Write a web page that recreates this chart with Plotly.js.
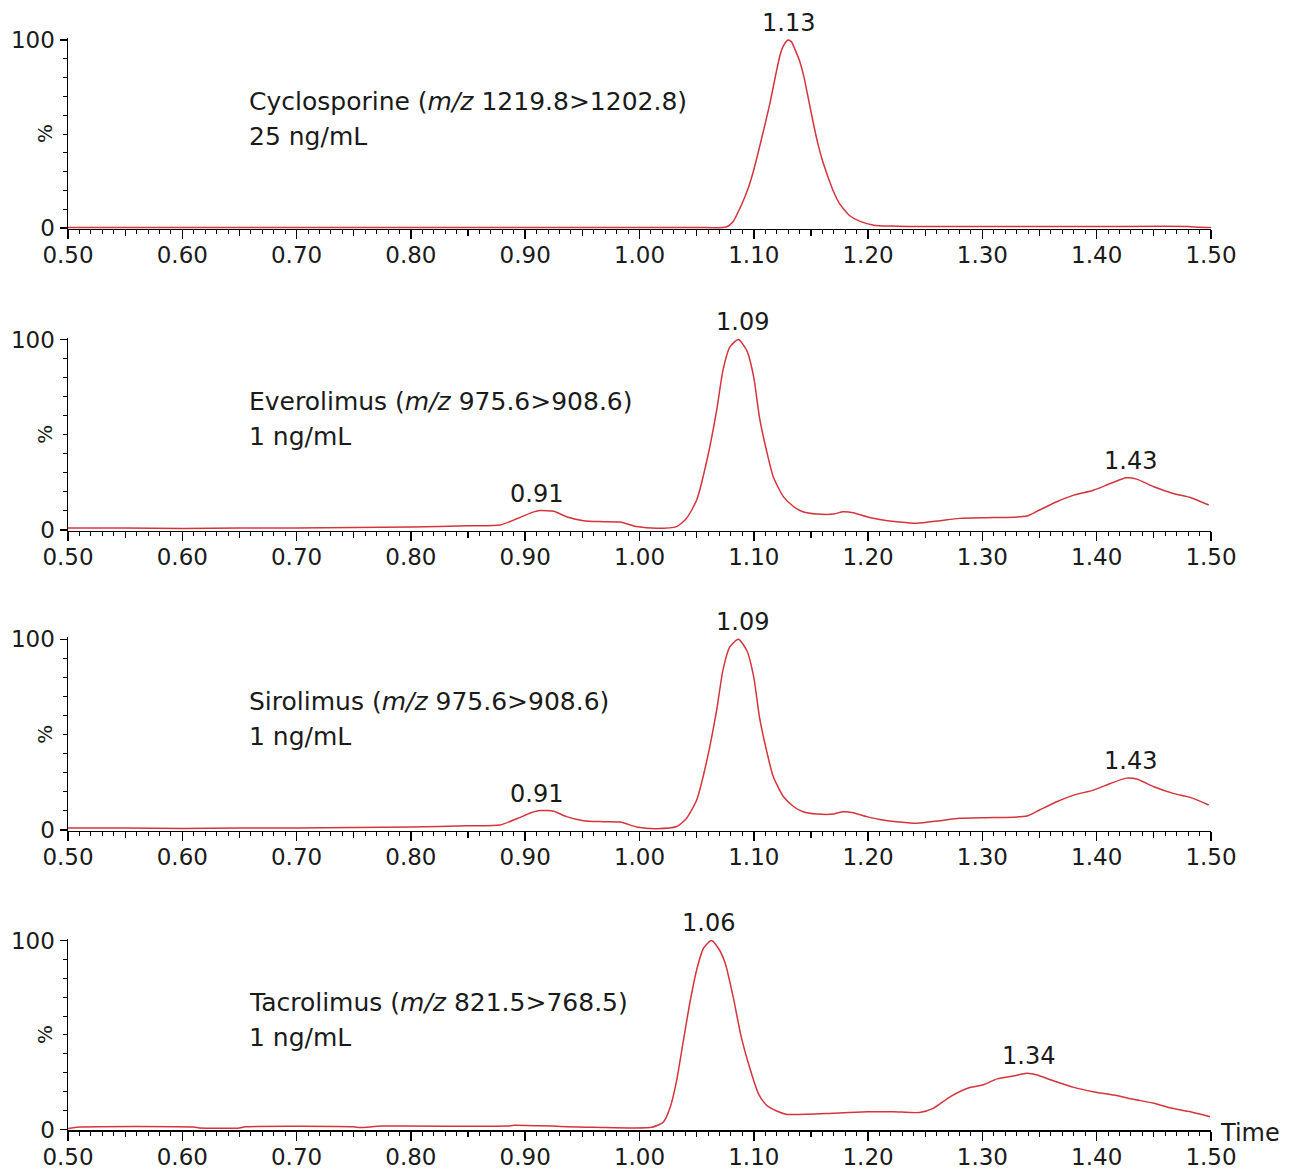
<!DOCTYPE html>
<html>
<head>
<meta charset="utf-8">
<script src="https://cdn.plot.ly/plotly-3.0.1.min.js"></script>
<style>html,body{margin:0;padding:0;background:#fff;}#chart{width:1291px;height:1172px;}</style>
</head>
<body>
<div id="chart"></div>
<script>
// ---- Data (time in min, intensity in %) ----
const cycloT = [0.50,0.60,0.70,0.80,0.90,1.00,1.05,1.076,1.082,1.089,1.095,1.100,1.107,1.114,1.119,1.123,1.126,1.130,1.133,1.136,1.140,1.144,1.148,1.152,1.156,1.160,1.165,1.170,1.175,1.184,1.193,1.205,1.220,1.234,1.30,1.40,1.48,1.49,1.50];
const cycloY = [0.3,0.3,0.3,0.3,0.3,0.3,0.3,0.5,3.5,12,21,31,48,66,81,92,97,100,99,95,89,80,68,56,45,36,27,19,13,6.5,3.5,1.5,1,0.8,0.8,0.8,0.8,0.4,0.3];

const everoT = [0.50,0.55,0.60,0.65,0.70,0.75,0.80,0.85,0.878,0.893,0.905,0.913,0.925,0.936,0.951,0.965,0.983,0.9975,1.015,1.0325,1.041,1.050,1.059,1.0675,1.073,1.079,1.0865,1.094,1.100,1.105,1.111,1.117,1.126,1.135,1.143,1.155,1.170,1.178,1.187,1.199,1.213,1.2425,1.263,1.280,1.310,1.339,1.350,1.365,1.380,1.397,1.412,1.426,1.435,1.450,1.467,1.482,1.498];
const everoY = [1.0,1.0,0.8,1.0,1.0,1.3,1.6,2.2,2.6,6,9,10.2,9.8,7,4.9,4.4,4.2,1.8,0.9,1.8,6,15.7,36.6,62.8,83.8,96,100,94,80,59,42,28,17.4,12.2,9.6,8.4,8.4,9.6,9.1,7,5.2,3.5,4.9,6.1,6.5,7.3,10.5,14.8,18.3,20.9,24.4,27.4,26.7,22.7,19.2,17.1,13.1];

const siroT = [0.50,0.55,0.60,0.65,0.70,0.75,0.80,0.85,0.878,0.893,0.905,0.913,0.925,0.936,0.951,0.965,0.983,0.9975,1.015,1.0325,1.041,1.050,1.059,1.0675,1.073,1.079,1.0865,1.094,1.100,1.105,1.111,1.117,1.126,1.135,1.143,1.155,1.170,1.178,1.187,1.199,1.213,1.2425,1.263,1.280,1.310,1.339,1.350,1.365,1.380,1.397,1.412,1.426,1.435,1.450,1.467,1.482,1.498];
const siroY = [1.0,1.0,0.8,1.0,1.0,1.3,1.6,2.2,2.6,6,9,10.2,9.8,7,4.9,4.4,4.2,1.6,0.7,1.8,6,15.7,36.6,62.8,83.8,96,100,94,80,59,42,28,17.4,12.2,9.6,8.4,8.4,9.6,9.1,7,5.2,3.5,4.9,6.1,6.5,7.3,10.5,14.8,18.3,20.9,24.4,27.2,26.7,22.7,19.2,17.1,13.1];

const tacroT = [0.50,0.51,0.61,0.615,0.65,0.655,0.75,0.755,0.775,0.885,0.89,0.96,1.011,1.021,1.027,1.0325,1.038,1.044,1.050,1.056,1.063,1.069,1.075,1.082,1.089,1.097,1.104,1.111,1.120,1.129,1.170,1.200,1.222,1.245,1.257,1.272,1.289,1.300,1.313,1.327,1.339,1.348,1.362,1.380,1.397,1.415,1.432,1.450,1.464,1.482,1.499];
const tacroY = [0.5,1.3,1.3,0.8,0.8,1.4,1.4,1.0,1.8,1.8,2.2,1.2,1.2,4,12,26,45.6,66.8,84.4,95.9,100,95.9,88,70,49,31.5,19,13,9.8,8,8.6,9.4,9.4,9,11.2,17.4,22.2,23.5,26.8,28.3,29.7,28.8,25.8,22.3,20,18.2,16,13.9,11.5,9.4,6.8];

// peak retention-time labels
const cycloPeaks = [1.13];
const everoPeaks = [0.91, 1.09, 1.43];
const siroPeaks  = [0.91, 1.09, 1.43];
const tacroPeaks = [1.06, 1.34];

// compound captions
const compoundNames = ['Cyclosporine', 'Everolimus', 'Sirolimus', 'Tacrolimus'];
const transitions   = ['1219.8&gt;1202.8', '975.6&gt;908.6', '975.6&gt;908.6', '821.5&gt;768.5'];
const concentrations = ['25 ng/mL', '1 ng/mL', '1 ng/mL', '1 ng/mL'];

const xTicks = { tick0: 0.5, dtick: 0.1 };
const yTickVals = [0, 100];

// ---- Build the figure ----
const FONT = 'DejaVu Sans, Liberation Sans, Arial, sans-serif';
const RED = '#d4343c';
const series = [[cycloT, cycloY], [everoT, everoY], [siroT, siroY], [tacroT, tacroY]];
const peaks = [cycloPeaks, everoPeaks, siroPeaks, tacroPeaks];
// y domains of the 4 panels (paper fractions)
const domains = [[0.80466, 0.96747], [0.54697, 0.71195], [0.29100, 0.45614], [0.03545, 0.19915]];

const traces = [];
const layout = {
  width: 1291, height: 1172,
  margin: { l: 68, r: 80, t: 0, b: 0 },
  paper_bgcolor: '#fff', plot_bgcolor: '#fff',
  showlegend: false,
  font: { family: FONT, color: '#1a1a1a' },
  annotations: []
};

function localMax(t, y, c) {
  let m = -1;
  for (let i = 0; i < t.length; i++) if (Math.abs(t[i] - c) <= 0.016 && y[i] > m) m = y[i];
  return m;
}

for (let i = 0; i < 4; i++) {
  const k = i + 1;
  const xs = 'x' + k, ys = 'y' + k;
  traces.push({
    x: series[i][0], y: series[i][1], xaxis: xs, yaxis: ys,
    type: 'scatter', mode: 'lines',
    line: { color: RED, width: 1.5, shape: 'spline', smoothing: 0.6 }, hoverinfo: 'x+y'
  });
  // empty trace to register the medium-tick overlay axis
  traces.push({ x: [], y: [], xaxis: 'x' + (k + 4), yaxis: ys, type: 'scatter', mode: 'lines', hoverinfo: 'skip' });

  layout['xaxis' + k] = {
    domain: [0, 1], range: [0.5, 1.5], anchor: ys,
    tickmode: 'linear', tick0: xTicks.tick0, dtick: xTicks.dtick, tickformat: '.2f',
    ticks: 'outside', ticklen: 9, tickwidth: 1.5, tickcolor: '#000',
    ticklabelstandoff: -4,
    showline: true, linecolor: '#000', linewidth: 1.5,
    showgrid: false, zeroline: false, fixedrange: true,
    tickfont: { family: FONT, size: 23, color: '#1a1a1a' },
    minor: { tickmode: 'linear', tick0: 0.5, dtick: 0.01, ticks: 'outside', ticklen: 4, tickwidth: 1, tickcolor: '#000', showgrid: false }
  };
  layout['xaxis' + (k + 4)] = {
    domain: [0, 1], range: [0.5, 1.5], anchor: ys, overlaying: xs,
    tickmode: 'linear', tick0: 0.55, dtick: 0.1,
    ticks: 'outside', ticklen: 6, tickwidth: 1.2, tickcolor: '#000',
    showticklabels: false, showline: false, showgrid: false, zeroline: false, fixedrange: true
  };
  layout['yaxis' + k] = {
    domain: domains[i], range: [-0.5, 101], anchor: xs,
    tickmode: 'array', tickvals: yTickVals,
    ticks: 'outside', ticklen: 7, tickwidth: 1.5, tickcolor: '#000',
    showline: true, linecolor: '#000', linewidth: 1.5,
    showgrid: false, zeroline: false, fixedrange: true,
    tickfont: { family: FONT, size: 23, color: '#1a1a1a' },
    minor: { tickmode: 'linear', tick0: 0, dtick: 10, ticks: 'outside', ticklen: 4, tickwidth: 1, tickcolor: '#000', showgrid: false }
  };

  // "%" axis label
  layout.annotations.push({
    xref: 'paper', yref: ys, x: -0.0201, y: 50, text: '%', showarrow: false,
    textangle: -90, xanchor: 'center', yanchor: 'middle',
    font: { family: FONT, size: 20, color: '#1a1a1a' }
  });
  // caption lines
  layout.annotations.push({
    xref: 'x' + k + ' domain', yref: ys, x: 0.1566, y: 67.2, xanchor: 'left', yanchor: 'middle',
    text: compoundNames[i] + ' (<i>m/z</i> ' + transitions[i] + ')', showarrow: false,
    font: { family: FONT, size: 25, color: '#1a1a1a' }
  });
  layout.annotations.push({
    xref: 'x' + k + ' domain', yref: ys, x: 0.1566, y: 48.9, xanchor: 'left', yanchor: 'middle',
    text: concentrations[i], showarrow: false,
    font: { family: FONT, size: 25, color: '#1a1a1a' }
  });
  // peak labels
  peaks[i].forEach(function (p) {
    layout.annotations.push({
      xref: xs, yref: ys, x: p, y: localMax(series[i][0], series[i][1], p),
      text: p.toFixed(2), showarrow: false, xanchor: 'center', yanchor: 'middle', yshift: 17,
      font: { family: FONT, size: 24, color: '#1a1a1a' }
    });
  });
}

// "Time" label at the end of the last axis
layout.annotations.push({
  xref: 'paper', yref: 'paper', x: 1.0061, y: 1 - 1133 / 1172, xanchor: 'left', yanchor: 'middle',
  text: 'Time', showarrow: false, font: { family: FONT, size: 24, color: '#1a1a1a' }
});

Plotly.newPlot('chart', traces, layout, { displayModeBar: false, staticPlot: true });
</script>
</body>
</html>
